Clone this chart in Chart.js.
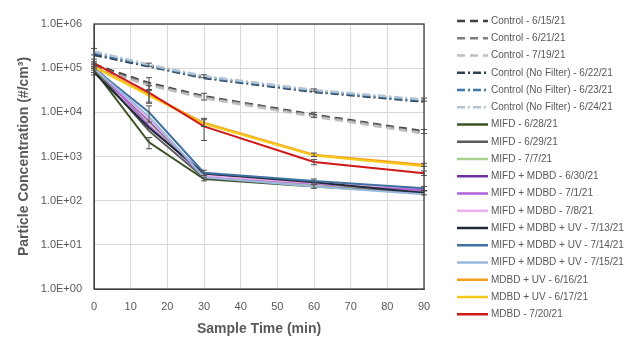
<!DOCTYPE html>
<html>
<head>
<meta charset="utf-8">
<script src="https://cdn.jsdelivr.net/npm/chart.js@4.4.1/dist/chart.umd.min.js"></script>
<style>
html,body{margin:0;padding:0;background:#fff;}
#wrap{position:relative;width:640px;height:352px;}
</style>
</head>
<body>
<div id="wrap"><canvas id="c"></canvas></div>
<script>
// ---- data ----
const sampleTimes = [0, 15, 30, 60, 90];
const yTickLabels = ['1.0E+00','1.0E+01','1.0E+02','1.0E+03','1.0E+04','1.0E+05','1.0E+06'];
const xTickValues = [0,10,20,30,40,50,60,70,80,90];

const seriesLabels = [
  'Control - 6/15/21','Control - 6/21/21','Control - 7/19/21',
  'Control (No Filter) - 6/22/21','Control (No Filter) - 6/23/21','Control (No Filter) - 6/24/21',
  'MIFD - 6/28/21','MIFD - 6/29/21','MIFD - 7/7/21',
  'MIFD + MDBD - 6/30/21','MIFD + MDBD - 7/1/21','MIFD + MDBD - 7/8/21',
  'MIFD + MDBD + UV - 7/13/21','MIFD + MDBD + UV - 7/14/21','MIFD + MDBD + UV - 7/15/21',
  'MDBD + UV - 6/16/21','MDBD + UV - 6/17/21','MDBD - 7/20/21'
];

const control_0615 = [1.2e5, 4.6e4, 2.3e4, 8.8e3, 3.7e3];
const control_0621 = [1.1e5, 4.3e4, 2.2e4, 8.4e3, 3.5e3];
const control_0719 = [1.0e5, 4.1e4, 2.1e4, 8.0e3, 3.3e3];
const noFilter_0622 = [2.0e5, 1.1e5, 6.0e4, 2.9e4, 1.75e4];
const noFilter_0623 = [2.2e5, 1.15e5, 6.3e4, 3.05e4, 1.85e4];
const noFilter_0624 = [2.4e5, 1.2e5, 6.6e4, 3.2e4, 1.95e4];
const mifd_0628 = [9.0e4, 2.1e3, 3.1e2, 2.1e2, 1.5e2];
const mifd_0629 = [1.0e5, 3.8e3, 3.3e2, 2.2e2, 1.6e2];
const mifd_0707 = [1.0e5, 6.0e3, 3.5e2, 2.3e2, 1.7e2];
const mifdMdbd_0630 = [1.1e5, 6.5e3, 3.8e2, 2.5e2, 1.8e2];
const mifdMdbd_0701 = [1.1e5, 5.0e3, 3.6e2, 2.4e2, 1.7e2];
const mifdMdbd_0708 = [1.05e5, 7.0e3, 3.7e2, 2.5e2, 1.9e2];
const mifdMdbdUv_0713 = [8.0e4, 4.5e3, 4.1e2, 2.6e2, 1.5e2];
const mifdMdbdUv_0714 = [1.0e5, 1.0e4, 4.3e2, 2.8e2, 1.9e2];
const mifdMdbdUv_0715 = [1.0e5, 8.0e3, 3.4e2, 2.1e2, 1.4e2];
const mdbdUv_0616 = [1.1e5, 2.5e4, 5.8e3, 1.1e3, 6.5e2];
const mdbdUv_0617 = [1.05e5, 2.4e4, 5.5e3, 1.05e3, 6.0e2];
const mdbd_0720 = [1.3e5, 2.8e4, 4.8e3, 7.5e2, 4.2e2];

// symmetric error bar half-widths
const control_0615_err = [2.0e4, 1.5e4, 4.0e3, 1.2e3, 4.0e2];
const noFilter_0624_err = [4.0e4, 1.0e4, 5.0e3, 2.0e3, 1.5e3];
const mdbd_0720_err = [3.0e4, 1.2e4, 2.5e3, 1.0e2, 5.0e1];
const mdbdUv_0616_err = [2.0e4, 8.0e3, 1.0e3, 1.0e2, 5.0e1];
const mifdMdbdUv_0714_err = [2.0e4, 4.0e3, 6.0e1, 3.0e1, 2.0e1];
const mifd_0628_err = [2.0e4, 6.0e2, 3.0e1, 2.0e1, 1.5e1];

const seriesValues = [
  control_0615, control_0621, control_0719,
  noFilter_0622, noFilter_0623, noFilter_0624,
  mifd_0628, mifd_0629, mifd_0707,
  mifdMdbd_0630, mifdMdbd_0701, mifdMdbd_0708,
  mifdMdbdUv_0713, mifdMdbdUv_0714, mifdMdbdUv_0715,
  mdbdUv_0616, mdbdUv_0617, mdbd_0720
];
const seriesErrors = [
  control_0615_err, null, null,
  null, null, noFilter_0624_err,
  mifd_0628_err, null, null,
  null, null, null,
  null, mifdMdbdUv_0714_err, null,
  mdbdUv_0616_err, null, mdbd_0720_err
];

// ---- styles ----
const seriesColors = [
  '#404040','#7f7f7f','#bfbfbf',
  '#2f3f52','#3f78a8','#b4c4d4',
  '#3b5527','#5a5a5a','#a9d18e',
  '#7030a0','#b060dd','#f0b0ee',
  '#222a35','#3f72a0','#9ab8dc',
  '#f4a01c','#f8c81a','#d01818'
];
const DASH = [8, 5];
const DASHDOT = [8, 3, 2, 3];
const seriesDash = [
  DASH, DASH, DASH, DASHDOT, DASHDOT, DASHDOT,
  [],[],[],[],[],[],[],[],[],[],[],[]
];

const TEXT = '#595959';
const FONT = '"Liberation Sans", Arial, sans-serif';

const datasets = seriesLabels.map((lab, i) => ({
  label: lab,
  data: sampleTimes.map((t, k) => ({x: t, y: seriesValues[i][k]})),
  errors: seriesErrors[i],
  borderColor: seriesColors[i],
  backgroundColor: seriesColors[i],
  borderWidth: i < 6 ? 2.5 : 2,
  borderDash: seriesDash[i],
  pointRadius: 0,
  pointHoverRadius: 0,
  tension: 0,
  fill: false,
  order: seriesLabels.length - i
}));

const errorBarPlugin = {
  id: 'errorBars',
  afterDatasetsDraw(chart) {
    const ctx = chart.ctx, xs = chart.scales.x, ys = chart.scales.y;
    ctx.save();
    ctx.lineWidth = 1;
    ctx.setLineDash([]);
    ctx.strokeStyle = '#505050';
    chart.data.datasets.forEach(ds => {
      if (!ds.errors) return;
      ds.data.forEach((p, k) => {
        const e = ds.errors[k];
        const px = xs.getPixelForValue(p.x);
        const yt = ys.getPixelForValue(p.y + e);
        const yb = ys.getPixelForValue(Math.max(p.y - e, 1));
        ctx.beginPath();
        ctx.moveTo(px, yt); ctx.lineTo(px, yb);
        ctx.moveTo(px - 3, yt); ctx.lineTo(px + 3, yt);
        ctx.moveTo(px - 3, yb); ctx.lineTo(px + 3, yb);
        ctx.stroke();
      });
    });
    ctx.restore();
  }
};

const frameLegendPlugin = {
  id: 'frameLegend',
  afterDraw(chart) {
    const ctx = chart.ctx, a = chart.chartArea;
    ctx.save();
    ctx.strokeStyle = '#404040';
    ctx.lineWidth = 1.3;
    ctx.setLineDash([]);
    ctx.strokeRect(a.left, a.top, a.right - a.left, a.bottom - a.top);
    // legend
    const x0 = 457, x1 = 488, tx = 491, y0 = 21, dy = 17.25;
    ctx.font = '10px ' + FONT;
    ctx.textBaseline = 'middle';
    ctx.textAlign = 'left';
    chart.data.datasets.forEach((ds, i) => {
      const y = y0 + i * dy;
      ctx.strokeStyle = ds.borderColor;
      ctx.lineWidth = 2.5;
      ctx.setLineDash(ds.borderDash || []);
      ctx.beginPath(); ctx.moveTo(x0, y); ctx.lineTo(x1, y); ctx.stroke();
      ctx.setLineDash([]);
      ctx.fillStyle = TEXT;
      ctx.fillText(ds.label, tx, y);
    });
    ctx.restore();
  }
};

new Chart(document.getElementById('c'), {
  type: 'line',
  data: { datasets },
  plugins: [errorBarPlugin, frameLegendPlugin],
  options: {
    responsive: true,
    maintainAspectRatio: false,
    animation: false,
    layout: { padding: { left: 16, right: 216, top: 24, bottom: 14 } },
    plugins: { legend: { display: false }, tooltip: { enabled: false } },
    scales: {
      x: {
        type: 'linear', min: 0, max: 90,
        afterBuildTicks: s => { s.ticks = xTickValues.map(v => ({value: v})); },
        grid: { color: '#d9d9d9', drawTicks: false },
        border: { color: '#404040' },
        ticks: { color: TEXT, font: { family: FONT, size: 11 }, padding: 11, maxRotation: 0 },
        title: { display: true, text: 'Sample Time (min)', color: TEXT, font: { family: FONT, size: 14, weight: 'bold' }, padding: { top: -3, bottom: 0 } }
      },
      y: {
        type: 'logarithmic', min: 1, max: 1e6,
        afterBuildTicks: s => { s.ticks = yTickLabels.map((t, e) => ({value: Math.pow(10, e)})); },
        afterFit: s => { s.width = 78; },
        grid: { color: '#d9d9d9', drawTicks: false },
        border: { color: '#404040' },
        ticks: { color: TEXT, font: { family: FONT, size: 11 }, padding: 12,
          callback: (v) => yTickLabels[Math.round(Math.log10(v))] },
        title: { display: true, text: 'Particle Concentration (#/cm³)', color: TEXT, font: { family: FONT, size: 14, weight: 'bold' }, padding: { top: 0, bottom: 4 } }
      }
    }
  }
});
</script>
</body>
</html>
